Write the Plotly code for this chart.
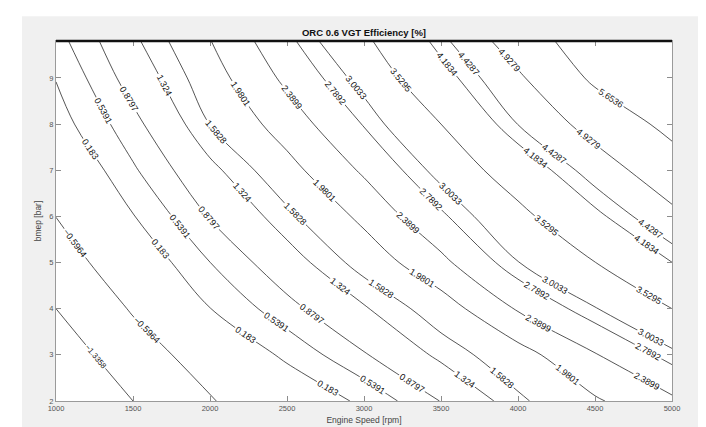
import plotly.graph_objects as go

# Engine speed grid [rpm] and bmep grid [bar]
rpm = [1000, 1500, 2000, 2500, 3000, 3500, 4000, 4500, 5000]
bmep = [2, 3, 4, 5, 6, 7, 8, 9, 9.8]

# ORC 0.6 VGT efficiency [%] (rows = bmep, cols = rpm)
eff_b2 = [-2.04, -1.3358, -0.633, -0.187, 0.266, 0.892, 1.521, 1.931, 2.311]
eff_b3 = [-1.735, -0.927, -0.275, 0.267, 0.847, 1.410, 1.816, 2.363, 2.918]
eff_b4 = [-1.3358, -0.533, 0.175, 0.757, 1.288, 1.773, 2.428, 2.982, 3.5295]
eff_b5 = [-0.92, -0.173, 0.536, 1.151, 1.721, 2.289, 2.993, 3.523, 4.18]
eff_b6 = [-0.59, 0.163, 0.905, 1.504, 2.078, 2.728, 3.370, 4.077, 4.789]
eff_b7 = [-0.33, 0.488, 1.227, 1.843, 2.450, 3.128, 3.846, 4.625, 5.319]
eff_b8 = [0.0, 0.763, 1.590, 2.167, 2.812, 3.5295, 4.437, 5.160, 5.85]
eff_b9 = [0.20, 1.060, 1.802, 2.480, 3.141, 3.997, 4.837, 5.78, 6.4]
eff_b98 = [0.40, 1.253, 1.968, 2.703, 3.425, 4.323, 5.242, 6.1, 6.75]

# contour levels shown in the chart
levels = [-1.3358, -0.5964, 0.183, 0.5391, 0.8797, 1.324, 1.5828, 1.9801,
          2.3899, 2.7892, 3.0033, 3.5295, 4.1834, 4.4287, 4.9279, 5.6536]

x_ticks = [1000, 1500, 2000, 2500, 3000, 3500, 4000, 4500, 5000]
y_ticks = [2, 3, 4, 5, 6, 7, 8, 9]

z = [eff_b2, eff_b3, eff_b4, eff_b5, eff_b6, eff_b7, eff_b8, eff_b9, eff_b98]

FONT = "Liberation Sans, Arial, Helvetica, sans-serif"

# Each trace draws one level; the extra (empty, far above the data) levels only
# make plotly space the inline labels more densely, like MATLAB's clabel.
LABEL_DENSITY = 100
STEP = 1000.0

fig = go.Figure()
for i, lv in enumerate(levels):
    # the first (shortest) contour needs a slightly smaller label to get one at all
    lab_size = 7.8 if i == 0 else 9
    fig.add_trace(go.Contour(
        x=rpm, y=bmep, z=z,
        autocontour=False,
        contours=dict(start=lv, end=lv + (LABEL_DENSITY - 1) * STEP, size=STEP,
                      coloring="none", showlabels=True, labelformat="~.5g",
                      labelfont=dict(family=FONT, size=lab_size, color="#111")),
        line=dict(color="#2b2b2b", width=0.8, smoothing=1),
        showscale=False, hoverinfo="skip",
    ))

H_PLOT = 427 - 33 - 31
W_PLOT = 706 - 48 - 42

fig.update_layout(
    width=706, height=427,
    margin=dict(l=48, r=42, t=33, b=31),
    paper_bgcolor="#f0f0f0", plot_bgcolor="white",
    showlegend=False,
    font=dict(family=FONT, color="#444"),
    title=dict(text="<b>ORC 0.6 VGT Efficiency [%]</b>", x=0.5, xref="paper",
               xanchor="center", y=1 - 25 / 427, yref="container", yanchor="middle",
               font=dict(family=FONT, size=9.5, color="#111")),
    xaxis=dict(range=[1000, 5000], tickvals=x_ticks, ticks="inside", ticklen=5,
               tickcolor="#8c8c8c", showline=True, linecolor="#9a9a9a", linewidth=1.2,
               mirror="ticks", showgrid=False, zeroline=False,
               tickfont=dict(size=7.5, color="#555"),
               title=dict(text="Engine Speed [rpm]", font=dict(size=8.5, color="#444"), standoff=4)),
    yaxis=dict(range=[2, 9.8], tickvals=y_ticks, ticks="inside", ticklen=5,
               tickcolor="#8c8c8c", showline=True, linecolor="#9a9a9a", linewidth=1.2,
               mirror="ticks", showgrid=False, zeroline=False,
               tickfont=dict(size=7.5, color="#555"),
               title=dict(text="bmep [bar]", font=dict(size=8.5, color="#444"), standoff=6)),
    shapes=[
        # white outer strips (top and left) of the figure window
        dict(type="rect", xref="paper", yref="paper", x0=-0.2, x1=1.2,
             y0=1 + 25 / H_PLOT, y1=1 + 40 / H_PLOT, fillcolor="white",
             line=dict(width=0), layer="below"),
        dict(type="rect", xref="paper", yref="paper", x0=-60 / W_PLOT, x1=-34 / W_PLOT,
             y0=-0.2, y1=1.2, fillcolor="white", line=dict(width=0), layer="below"),
        # thick top border of the axes box
        dict(type="line", xref="paper", yref="paper", x0=0, x1=1, y0=1, y1=1,
             line=dict(color="#111", width=2.5), layer="above"),
    ],
)

fig.write_html("out.html")
